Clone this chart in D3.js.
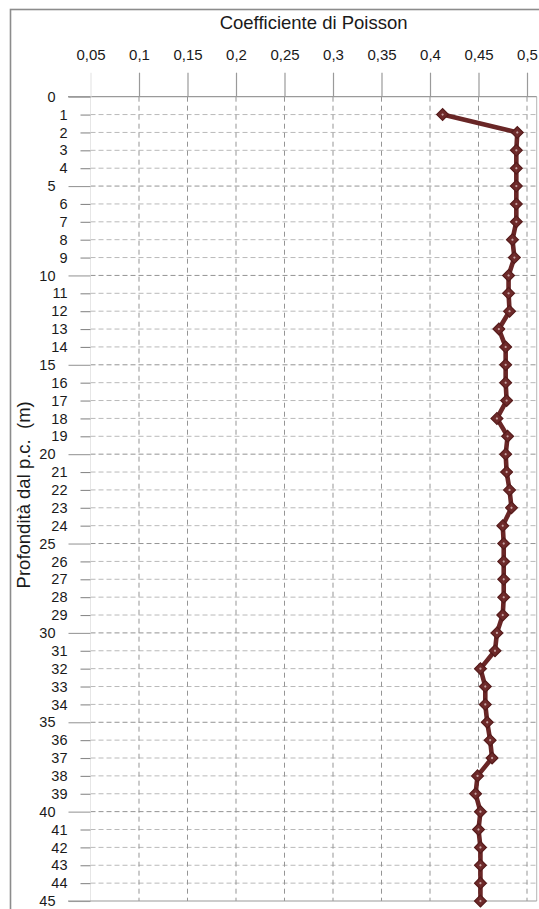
<!DOCTYPE html>
<html>
<head>
<meta charset="utf-8">
<script src="https://cdn.jsdelivr.net/npm/d3@7/dist/d3.min.js"></script>
<style>
  html, body { margin: 0; padding: 0; background: #fff; }
  text { font-family: "Liberation Sans", Arial, sans-serif; fill: #1a1a1a; }
</style>
</head>
<body>
<svg id="chart" width="539" height="909"></svg>
<script>
// Depth below ground level (m)
const depths = [1, 2, 3, 4, 5, 6, 7, 8, 9, 10, 11, 12, 13, 14, 15, 16, 17, 18, 19, 20,
  21, 22, 23, 24, 25, 26, 27, 28, 29, 30, 31, 32, 33, 34, 35, 36, 37, 38, 39, 40,
  41, 42, 43, 44, 45];
// Poisson's ratio at each depth
const poisson = [0.413, 0.490, 0.489, 0.489, 0.489, 0.489, 0.489, 0.485, 0.487, 0.481,
  0.481, 0.482, 0.471, 0.478, 0.478, 0.478, 0.479, 0.469, 0.480, 0.478,
  0.479, 0.482, 0.484, 0.475, 0.476, 0.476, 0.476, 0.476, 0.475, 0.469,
  0.467, 0.452, 0.457, 0.457, 0.459, 0.462, 0.464, 0.449, 0.447, 0.452,
  0.450, 0.452, 0.452, 0.452, 0.452];
const xTickValues = [0.05, 0.1, 0.15, 0.2, 0.25, 0.3, 0.35, 0.4, 0.45, 0.5];
const yTickValues = [0, 1, 2, 3, 4, 5, 6, 7, 8, 9, 10, 11, 12, 13, 14, 15, 16, 17, 18, 19, 20,
  21, 22, 23, 24, 25, 26, 27, 28, 29, 30, 31, 32, 33, 34, 35, 36, 37, 38, 39, 40,
  41, 42, 43, 44, 45];
const majorDepths = [0, 5, 10, 15, 20, 25, 30, 35, 40, 45];

const data = depths.map((d, i) => ({ depth: d, value: poisson[i] }));

const svg = d3.select("#chart");
const x = d3.scaleLinear().domain([0.05, 0.51]).range([90.5, 536.7]);
const y = d3.scaleLinear().domain([0, 45]).range([96.7, 901]);

const itLocale = d3.formatLocale({ decimal: ",", thousands: ".", grouping: [3], currency: ["", " €"] });
const fmt = itLocale.format(".2~f");

// outer frame
svg.append("rect")
  .attr("x", 10.5).attr("y", 9.5)
  .attr("width", 600).attr("height", 1000)
  .attr("fill", "none").attr("stroke", "#8c8c8c").attr("stroke-width", 1.6);

const [x0, x1] = x.range();
const [y0, y1] = y.range();

// horizontal dashed gridlines
svg.append("g").selectAll("line")
  .data(yTickValues.filter(d => d !== 0 && d !== 45))
  .join("line")
  .attr("x1", x0).attr("x2", x1)
  .attr("y1", d => y(d)).attr("y2", d => y(d))
  .attr("stroke", d => majorDepths.includes(d) ? "#939393" : "#b9b9b9")
  .attr("stroke-width", 1)
  .attr("stroke-dasharray", "5,3");

// vertical dashed gridlines
svg.append("g").selectAll("line")
  .data(xTickValues.filter(d => d !== 0.05))
  .join("line")
  .attr("x1", d => x(d)).attr("x2", d => x(d))
  .attr("y1", y0).attr("y2", y1)
  .attr("stroke", "#959595")
  .attr("stroke-width", 1)
  .attr("stroke-dasharray", "5,4");

// plot area edges
svg.append("line").attr("x1", x(0.05)).attr("x2", x(0.05)).attr("y1", y0).attr("y2", y1)
  .attr("stroke", "#e6e6e6").attr("stroke-width", 1);
svg.append("line").attr("x1", x1).attr("x2", x1).attr("y1", y0).attr("y2", y1)
  .attr("stroke", "#b5b5b5").attr("stroke-width", 1);
[0, 45].forEach(d => {
  svg.append("line").attr("x1", 68).attr("x2", x1).attr("y1", y(d)).attr("y2", y(d))
    .attr("stroke", "#9a9a9a").attr("stroke-width", 1.2);
});

// top value axis
const xAxis = svg.append("g")
  .attr("transform", `translate(0,${y0})`)
  .call(d3.axisTop(x).tickValues(xTickValues).tickFormat(fmt).tickSize(24).tickPadding(13));
xAxis.select(".domain").remove();
xAxis.selectAll(".tick line")
  .attr("stroke", d => d === 0.05 ? "#e6e6e6" : "#9a9a9a")
  .attr("stroke-width", 1.2);
xAxis.selectAll(".tick text")
  .attr("font-size", 15)
  .style("font-family", "'Liberation Sans', Arial, sans-serif")
  .attr("fill", "#1a1a1a");

// left depth axis
const yAxis = svg.append("g")
  .attr("transform", `translate(${x0},0)`)
  .call(d3.axisLeft(y).tickValues(yTickValues).tickFormat(d3.format("d")).tickSize(10).tickPadding(13));
yAxis.select(".domain").remove();
yAxis.selectAll(".tick line")
  .attr("x2", d => majorDepths.includes(d) ? -22 : -10)
  .attr("stroke", d => majorDepths.includes(d) ? "#9a9a9a" : "#8a8a8a")
  .attr("stroke-width", 1.1);
yAxis.selectAll(".tick text")
  .attr("x", d => majorDepths.includes(d) ? -35 : -23)
  .attr("font-size", 14.5)
  .style("font-family", "'Liberation Sans', Arial, sans-serif")
  .attr("fill", "#1a1a1a");

// axis titles
svg.append("text")
  .attr("x", (x0 + x1) / 2).attr("y", 28.5)
  .attr("text-anchor", "middle")
  .attr("font-size", 18.5)
  .text("Coefficiente di Poisson");

svg.append("text")
  .attr("transform", `translate(30,${(y0 + y1) / 2 - 4}) rotate(-90)`)
  .attr("text-anchor", "middle")
  .attr("font-size", 18.5)
  .attr("xml:space", "preserve")
  .style("white-space", "pre")
  .text("Profondità dal p.c.  (m)");

// profile line
const line = d3.line().x(d => x(d.value)).y(d => y(d.depth));
svg.append("path")
  .datum(data)
  .attr("d", line)
  .attr("fill", "none")
  .attr("stroke", "#692626")
  .attr("stroke-width", 4.6)
  .attr("stroke-linejoin", "round");

// diamond markers
const diamond = d3.symbol().type(d3.symbolSquare).size(70);
const markers = svg.append("g").selectAll("g")
  .data(data)
  .join("g")
  .attr("transform", d => `translate(${x(d.value)},${y(d.depth)}) rotate(45)`);
markers.append("path")
  .attr("d", diamond)
  .attr("fill", "#6e2a2a")
  .attr("stroke", "#561b1b")
  .attr("stroke-width", 1.2);
markers.append("circle")
  .attr("r", 1.1)
  .attr("fill", "#c7a3a3");
</script>
</body>
</html>
